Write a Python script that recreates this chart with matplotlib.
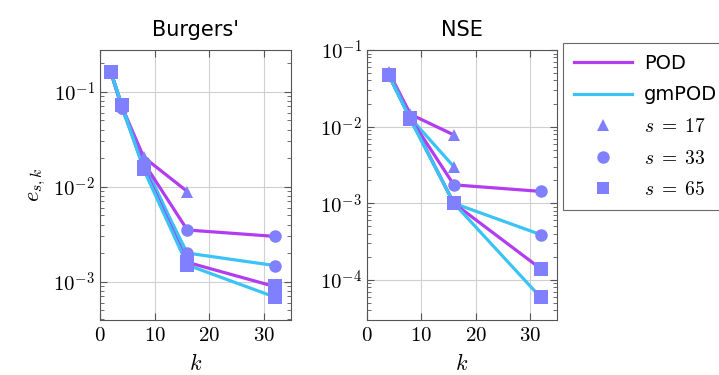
import numpy as np
import matplotlib.pyplot as plt
from matplotlib.ticker import FixedLocator, LogLocator, FuncFormatter, NullFormatter
from matplotlib.lines import Line2D

plt.rcParams['mathtext.fontset'] = 'cm'

# Burgers' data
bk17 = [2, 4, 8, 16]
bk33 = [2, 4, 8, 16, 32]
bk65 = [2, 4, 8, 16, 32]
b_pod17 = [0.16, 0.07, 0.0205, 0.0089]
b_gm17 = [0.16, 0.07, 0.018, 0.0019]
b_pod33 = [0.16, 0.068, 0.018, 0.0035, 0.0030]
b_gm33 = [0.16, 0.068, 0.016, 0.0020, 0.00148]
b_pod65 = [0.16, 0.073, 0.016, 0.0016, 0.00089]
b_gm65 = [0.16, 0.073, 0.0152, 0.0015, 0.00069]

# NSE data
nk17 = [4, 8, 16]
nk33 = [4, 8, 16, 32]
nk65 = [4, 8, 16, 32]
n_pod17 = [0.052, 0.0145, 0.0078]
n_gm17 = [0.05, 0.013, 0.0030]
n_pod33 = [0.048, 0.0128, 0.00174, 0.00143]
n_gm33 = [0.048, 0.0125, 0.0010, 0.00039]
n_pod65 = [0.047, 0.0128, 0.0010, 0.00014]
n_gm65 = [0.047, 0.0124, 0.00100, 0.000059]

c_pod = '#b23cf0'
c_gm = '#3cc3f5'
c_mk = '#8080ff'

fig = plt.figure(figsize=(7.19, 3.75), dpi=100)
ax1 = fig.add_axes([100/719, 55/375, 191/719, 270/375])
ax2 = fig.add_axes([367/719, 55/375, 190/719, 270/375])


def draw(ax, series):
    for k, y, col, mk in series:
        ax.plot(k, y, color=col, lw=2.3, zorder=2)
    for k, y, col, mk in series:
        ax.plot(k, y, ls='none', marker=mk, color=c_mk, ms=9 if mk != 's' else 9.5,
                markeredgewidth=0, zorder=3)


draw(ax1, [(bk17, b_pod17, c_pod, '^'), (bk17, b_gm17, c_gm, '^'),
           (bk33, b_pod33, c_pod, 'o'), (bk33, b_gm33, c_gm, 'o'),
           (bk65, b_pod65, c_pod, 's'), (bk65, b_gm65, c_gm, 's')])
draw(ax2, [(nk17, n_pod17, c_pod, '^'), (nk17, n_gm17, c_gm, '^'),
           (nk33, n_pod33, c_pod, 'o'), (nk33, n_gm33, c_gm, 'o'),
           (nk65, n_pod65, c_pod, 's'), (nk65, n_gm65, c_gm, 's')])

ax1.set_ylim(3.95e-4, 0.275)
ax2.set_ylim(3.0e-5, 0.1)

fmt = FuncFormatter(lambda v, p: r'$10^{%d}$' % round(np.log10(v)))
for ax in (ax1, ax2):
    ax.set_yscale('log')
    ax.set_xlim(0, 35)
    ax.xaxis.set_major_locator(FixedLocator([0, 10, 20, 30]))
    ax.xaxis.set_major_formatter(FuncFormatter(lambda v, p: r'$%d$' % v))
    ax.yaxis.set_major_locator(LogLocator(base=10, numticks=10))
    ax.yaxis.set_minor_locator(LogLocator(base=10, subs=np.arange(2, 10), numticks=10))
    ax.yaxis.set_major_formatter(fmt)
    ax.yaxis.set_minor_formatter(NullFormatter())
    ax.grid(True, which='major', color='#d0d0d0', lw=0.8, zorder=0)
    ax.tick_params(which='both', direction='in', top=True, right=True,
                   labelsize=15, color='#555555')
    ax.tick_params(which='major', length=5)
    ax.tick_params(which='minor', length=3)
    for s in ax.spines.values():
        s.set_color('#555555')
    ax.set_xlabel('$k$', fontsize=16, labelpad=6)

ax1.set_ylabel('$e_{s,k}$', fontsize=16)
ax1.set_title("Burgers'", fontsize=15, pad=10)
ax2.set_title('NSE', fontsize=15, pad=10)

handles = [Line2D([], [], color=c_pod, lw=2.3),
           Line2D([], [], color=c_gm, lw=2.3),
           Line2D([], [], ls='none', marker='^', color=c_mk, ms=9, markeredgewidth=0),
           Line2D([], [], ls='none', marker='o', color=c_mk, ms=9, markeredgewidth=0),
           Line2D([], [], ls='none', marker='s', color=c_mk, ms=9, markeredgewidth=0)]
labels = ['POD', 'gmPOD', r'$s\;=\;17$', r'$s\;=\;33$', r'$s\;=\;65$']
leg = fig.legend(handles, labels, loc='upper left', bbox_to_anchor=(563/719, 1 - 43/375),
                 fontsize=14, frameon=True, fancybox=False, edgecolor='#444444',
                 handlelength=3.0, handletextpad=0.6, borderpad=0.55, labelspacing=0.65,
                 borderaxespad=0)
leg.get_frame().set_linewidth(0.8)

fig.savefig('out.png', dpi=100)
